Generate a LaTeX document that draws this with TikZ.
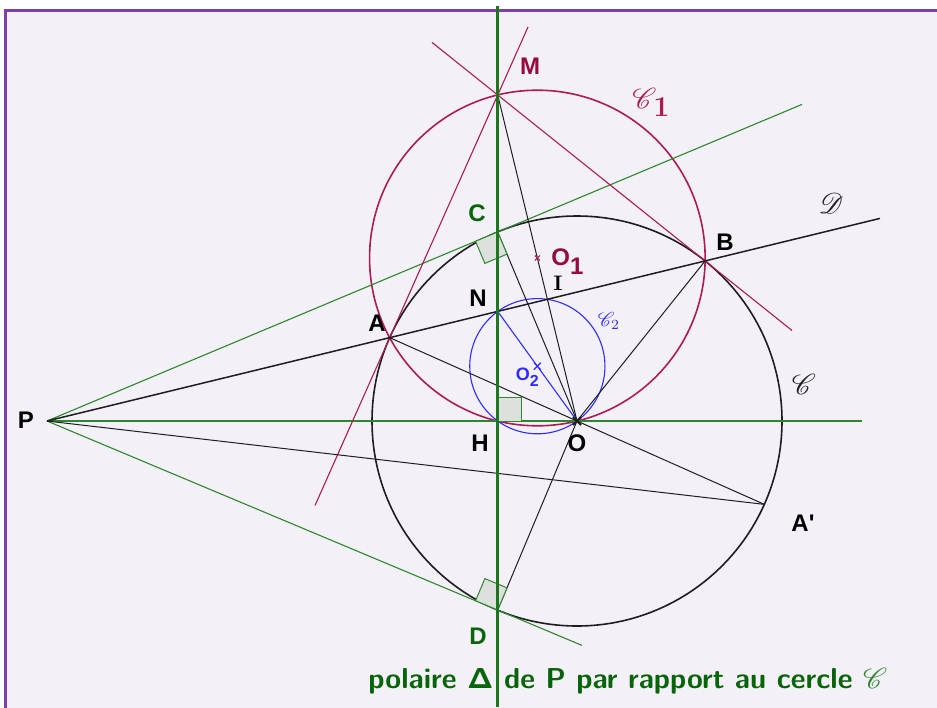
\documentclass[tikz,border=0pt]{standalone}
\usepackage{fontspec}
\usepackage{mathrsfs}
\usetikzlibrary{calc}
\newfontfamily\labfont{Liberation Sans}
\definecolor{bg}{RGB}{243,240,248}
\definecolor{framec}{RGB}{125,63,168}
\definecolor{crim}{RGB}{172,28,82}
\definecolor{crimD}{RGB}{150,10,62}
\definecolor{grn}{RGB}{45,135,45}
\definecolor{grnP}{RGB}{30,118,30}
\definecolor{grnL}{RGB}{8,100,8}
\definecolor{blu}{RGB}{45,45,255}
\definecolor{sqfill}{RGB}{220,225,222}
\definecolor{blk}{RGB}{30,30,30}
\newcommand\rightsq[3]{\filldraw[sq] (#1) -- ($(#1)!12pt!(#2)$) -- ($(#1)!12pt!(#2)+(#1)!12pt!(#3)-(#1)$) -- ($(#1)!12pt!(#3)$) -- cycle;}
\begin{document}
\begin{tikzpicture}[x=0.5pt,y=-0.5pt,
  lab/.style={font=\labfont\bfseries\fontsize{12}{14}\selectfont, inner sep=0pt},
  thin/.style={draw=blk, line width=0.5pt},
  sq/.style={fill=sqfill, draw=grn, line width=0.5pt},
  crl/.style={draw=crim, line width=0.55pt},
  gl/.style={draw=grn, line width=0.55pt}]
\useasboundingbox (0,0) rectangle (937,707);
\fill[white] (0,0) rectangle (937,707);
\fill[bg] (5,10.5) rectangle (950,720);
\draw[framec, line width=1.5pt] (950,10.5) -- (5,10.5) -- (5,720);

% points
\coordinate (P) at (47,421);
\coordinate (O) at (577,421);
\coordinate (H) at (497.7,421);
\coordinate (C) at (497.7,232);
\coordinate (D) at (497.7,610);
\coordinate (A) at (389.7,337.65);
\coordinate (B) at (705.1,260.95);
\coordinate (N) at (497.7,311.4);
\coordinate (I) at (547.4,299.3);
\coordinate (M) at (497.7,95);
\coordinate (O1) at (537.35,258);
\coordinate (O2) at (537.35,366.2);
\coordinate (Ap) at (764.3,504.35);
\coordinate (dEnd) at (880,218.4);
\coordinate (tb1) at (432,42.4);
\coordinate (tb2) at (792,330.5);
\coordinate (ta1) at (528,27);
\coordinate (ta2) at (315,505.5);
\coordinate (pcEnd) at (802,104.4);
\coordinate (pdEnd) at (582,645.4);
\coordinate (hEnd) at (862,421);
\coordinate (polTop) at (497.7,6);
\coordinate (polBot) at (497.7,707);

% circles
\draw[blk, line width=0.8pt] (O) circle[radius=102.5pt];
\draw[crim, line width=0.8pt] (O1) circle[radius=83.9pt];
\draw[blu, line width=0.55pt] (O2) circle[radius=33.8pt];

% green lines
\draw[gl] (P) -- (pcEnd);
\draw[gl] (P) -- (pdEnd);
\draw[gl] (P) -- (hEnd);

% crimson tangents
\draw[crl] (tb1) -- (tb2);
\draw[crl] (ta1) -- (ta2);

% black lines
\draw[blk, line width=0.75pt] (P) -- (dEnd);
\draw[thin] (P) -- (Ap);
\draw[thin] (A) -- (Ap);
\draw[thin] (M) -- (O);
\draw[thin] (C) -- (O);
\draw[thin] (D) -- (O);
\draw[thin] (B) -- (O);
\draw[blu, line width=0.55pt] (N) -- (O);

% right angles
\rightsq{C}{P}{O}
\rightsq{H}{O}{N}
\rightsq{D}{P}{O}

% polar
\draw[grnP, line width=1.4pt] (polTop) -- (polBot);

% markers
\draw[crim, line width=0.6pt] (O1) ++(-2.5,-2.5) -- ++(5,5) (O1) ++(-2.5,2.5) -- ++(5,-5);
\draw[blu, line width=0.6pt] (O2) ++(-3.5,-3.5) -- ++(7,7) (O2) ++(-3.5,3.5) -- ++(7,-7);
\draw[blk, line width=1pt] (O) ++(-4,-4) -- ++(8,8) (O) ++(-4,4) -- ++(8,-8);

% labels
\node[lab, text=crimD] (lM) at (530,66) {M};
\node[lab, text=grnL] (lC) at (477,213) {C};
\node[lab, text=grnL] (lD) at (478,636) {D};
\node[lab] (lN) at (478,298) {N};
\node[lab] (lA) at (377,323) {A};
\node[lab] (lB) at (725,242) {B};
\node[lab] (lH) at (480,443) {H};
\node[lab] (lO) at (577,443) {O};
\node[lab] (lP) at (26,420) {P};
\node[lab] (lAp) at (803,523) {A'};
\node[lab, text=crimD, anchor=base west] (lO1) at (551,265) {O\raisebox{-4.5pt}{1}};
\node[font=\labfont\bfseries\fontsize{9}{10}\selectfont, inner sep=0pt, text=blu, anchor=base west] (lO2) at (515.5,380) {O\raisebox{-3pt}{\fontsize{8}{9}\selectfont 2}};
\node[font=\bfseries\fontsize{10.5}{12}\selectfont, inner sep=0pt] (lI) at (558,283) {I};
\node[inner sep=0pt, text=crim, font=\Large] (lC1) at (651,102) {$\mathscr{C}$\kern-1.5pt\raisebox{-4pt}{\textbf{1}}};
\node[inner sep=0pt, blk, font=\Large] (lCC) at (804,384) {$\mathscr{C}$};
\node[inner sep=0pt, blk, font=\Large] (lDD) at (831,203) {$\mathscr{D}$};
\node[inner sep=0pt, text=blu, font=\normalsize] (lC2) at (609,321) {$\mathscr{C}_2$};
\node[inner sep=0pt, anchor=base west, text=grnL, font=\sffamily\bfseries\fontsize{14.4}{17}\selectfont] (title) at (368,688) {polaire Δ de P par rapport au cercle \textcolor{grn}{$\mathscr{C}$}};
\end{tikzpicture}
\end{document}
